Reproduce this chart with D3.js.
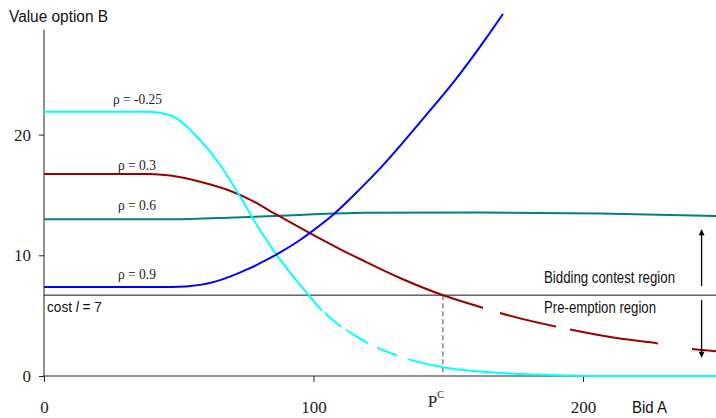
<!DOCTYPE html>
<html><head><meta charset="utf-8">
<script src="https://cdn.jsdelivr.net/npm/d3@7"></script>
<style>body{margin:0;background:#fff} svg{display:block}</style>
</head><body>
<svg id="chart" width="716" height="418"></svg>
<script>
// ---- data ----
const xTicks = [0, 100, 200];
const yTicks = [0, 10, 20];
const costValue = 6.7;      // "cost l = 7" line as drawn
const pcValue = 148;        // P^C
const rhoNeg025 = [[0,21.9],[39.3,21.9],[46.8,21.6],[57.9,19.55],[65.3,17.5],[72.7,14.9],[80.1,12.1],[82.6,11.27],[86.3,10.03],[92.5,8.23],[98.3,6.69],[102.4,5.6],[104.3,5.2],[110.2,4.1],[115.0,3.4],[120.2,2.72],[123.6,2.35],[131.0,1.7],[135.1,1.4],[148.1,0.72],[169.2,0.25],[187.8,0.08],[206.3,0.0],[250,0.0]];
const rho03 = [[0,16.74],[39.3,16.74],[46.8,16.61],[57.9,16.1],[69.0,15.35],[76.4,14.62],[86.8,13.3],[98.3,11.88],[109.8,10.52],[118.0,9.61],[132.1,8.12],[148.1,6.69],[162.9,5.65],[169.2,5.22],[195.2,3.85],[213.7,3.1],[227.8,2.7],[240.4,2.24],[250,2.05]];
const rho06 = [[0,12.98],[46.8,12.98],[70.9,13.13],[95.0,13.34],[119.1,13.53],[161.8,13.55],[206.3,13.46],[250,13.26]];
const rho09 = [[0,7.37],[47.5,7.37],[57.9,7.55],[63.5,7.82],[69.0,8.23],[76.4,8.93],[82.0,9.55],[86.5,10.1],[95.0,11.27],[98.3,11.8],[107.6,13.42],[117.3,15.5],[124.7,17.2],[140.6,21.3],[151.8,24.3],[164.4,28.1],[170.3,30.0]];
const gapsNeg025 = [[103.2,104.3],[110.3,112.1],[120.2,123.6],[131.0,135.1]];
const gaps03 = [[162.9,169.2],[190.0,195.2],[227.8,240.4]];
const seriesNames = ["\u03c1 = -0.25", "\u03c1 = 0.3", "\u03c1 = 0.6", "\u03c1 = 0.9"];
const seriesColors = ["#00ffff", "#990000", "#008080", "#0000ff"];
const labelYs = [22.5, 17.05, 13.75, 8.07];

// ---- scales ----
const svg = d3.select("#chart");
const x = d3.scaleLinear().domain([0, 250]).range([44, 44 + 2.695 * 250]);
const y = d3.scaleLinear().domain([0, 30]).range([376, 376 - 12.07 * 30]);
const axisColor = "#222";
const serif = "'Liberation Serif','Times New Roman',serif";
const sans = "'Liberation Sans',Arial,sans-serif";

// masks for the broken line pieces
const defs = svg.append("defs");
function makeMask(id, gaps) {
  const m = defs.append("mask").attr("id", id).attr("maskUnits", "userSpaceOnUse")
    .attr("x", 0).attr("y", 0).attr("width", 716).attr("height", 418);
  m.append("rect").attr("width", 716).attr("height", 418).attr("fill", "#fff");
  m.selectAll("rect.g").data(gaps).join("rect").attr("class", "g")
    .attr("x", d => x(d[0])).attr("width", d => x(d[1]) - x(d[0]))
    .attr("y", 0).attr("height", 418).attr("fill", "#000");
}
makeMask("m0", gapsNeg025);
makeMask("m1", gaps03);
defs.append("marker").attr("id", "arr").attr("viewBox", "0 0 10 10")
  .attr("refX", 9).attr("refY", 5).attr("markerWidth", 7).attr("markerHeight", 6)
  .attr("markerUnits", "userSpaceOnUse").attr("orient", "auto")
  .append("path").attr("d", "M0,0 L10,5 L0,10 Z").attr("fill", "#000");

// ---- axes ----
const yAxis = svg.append("g").attr("transform", `translate(${x(0)},0)`)
  .call(d3.axisLeft(y).tickValues(yTicks).tickSize(5).tickPadding(8).tickFormat(d3.format("d")));
yAxis.select(".domain").remove();
yAxis.selectAll("line").attr("stroke", axisColor);
yAxis.selectAll("text").attr("font-family", serif).attr("font-size", 17).attr("fill", "#222");

const xAxis = svg.append("g").attr("transform", `translate(0,${y(0)})`)
  .call(d3.axisBottom(x).tickValues(xTicks).tickSize(6).tickFormat(d3.format("d")));
xAxis.select(".domain").remove();
xAxis.selectAll("line").attr("stroke", axisColor);
xAxis.selectAll("text").attr("font-family", serif).attr("font-size", 17).attr("fill", "#222")
  .attr("y", 37).attr("dy", 0);

svg.append("line").attr("x1", x(0)).attr("x2", x(0)).attr("y1", y(0)).attr("y2", y(28.7))
  .attr("stroke", axisColor).attr("stroke-width", 1);
svg.append("line").attr("x1", x(0)).attr("x2", 716).attr("y1", y(0)).attr("y2", y(0))
  .attr("stroke", axisColor).attr("stroke-width", 1);

// cost line
svg.append("line").attr("x1", x(0)).attr("x2", 716).attr("y1", y(costValue)).attr("y2", y(costValue))
  .attr("stroke", "#111").attr("stroke-width", 1);

// P^C dashed
svg.append("line").attr("x1", x(pcValue)).attr("x2", x(pcValue)).attr("y1", y(costValue)).attr("y2", y(0))
  .attr("stroke", "#888").attr("stroke-width", 1.5).attr("stroke-dasharray", "5,3");

// ---- curves ----
const line = d3.line().x(d => x(d[0])).y(d => y(d[1])).curve(d3.curveMonotoneX);
const allSeries = [rhoNeg025, rho03, rho06, rho09];
const masks = ["m0", "m1", null, null];
const drawOrder = [2, 1, 0, 3];
drawOrder.forEach(i => {
  const p = svg.append("path").datum(allSeries[i]).attr("d", line)
    .attr("fill", "none").attr("stroke", seriesColors[i]).attr("stroke-width", 2);
  if (masks[i]) p.attr("mask", `url(#${masks[i]})`);
});

// series labels
svg.selectAll("text.rho").data(seriesNames).join("text").attr("class", "rho")
  .attr("x", (d, i) => i === 0 ? 113 : 118)
  .attr("y", (d, i) => y(labelYs[i]))
  .attr("font-family", serif).attr("font-size", 14).attr("fill", "#222")
  .attr("textLength", (d, i) => i === 0 ? 49 : 38).attr("lengthAdjust", "spacingAndGlyphs")
  .text(d => d);

// ---- annotations ----
svg.append("text").attr("x", 9).attr("y", 22).attr("font-family", sans).attr("font-size", 16)
  .attr("textLength", 99).attr("lengthAdjust", "spacingAndGlyphs").attr("fill", "#111").text("Value option B");

const cost = svg.append("text").attr("transform", "translate(47,311.5) scale(0.88,1)")
  .attr("font-family", sans).attr("font-size", 15.5).attr("fill", "#111");
cost.append("tspan").text("cost ");
cost.append("tspan").attr("font-style", "italic").text("l");
cost.append("tspan").text(" = 7");

svg.append("text").attr("x", 544).attr("y", 283).attr("font-family", sans).attr("font-size", 16)
  .attr("textLength", 131).attr("lengthAdjust", "spacingAndGlyphs").attr("fill", "#111").text("Bidding contest region");
svg.append("text").attr("x", 544).attr("y", 313).attr("font-family", sans).attr("font-size", 16)
  .attr("textLength", 112).attr("lengthAdjust", "spacingAndGlyphs").attr("fill", "#111").text("Pre-emption region");
svg.append("text").attr("x", 632).attr("y", 413).attr("font-family", sans).attr("font-size", 16)
  .attr("textLength", 35).attr("lengthAdjust", "spacingAndGlyphs").attr("fill", "#111").text("Bid A");

const pc = svg.append("text").attr("x", x(pcValue) - 15).attr("y", 407).attr("font-family", serif).attr("font-size", 17).attr("fill", "#222");
pc.append("tspan").text("P");
pc.append("tspan").attr("font-size", 10).attr("dy", -9).text("C");

// arrows
const arrowX = 244;
svg.append("line").attr("x1", x(arrowX)).attr("x2", x(arrowX)).attr("y1", y(7.46)).attr("y2", y(12.1))
  .attr("stroke", "#000").attr("stroke-width", 1.3).attr("marker-end", "url(#arr)");
svg.append("line").attr("x1", x(arrowX)).attr("x2", x(arrowX)).attr("y1", y(6.3)).attr("y2", y(1.57))
  .attr("stroke", "#000").attr("stroke-width", 1.3).attr("marker-end", "url(#arr)");
</script>
</body></html>
